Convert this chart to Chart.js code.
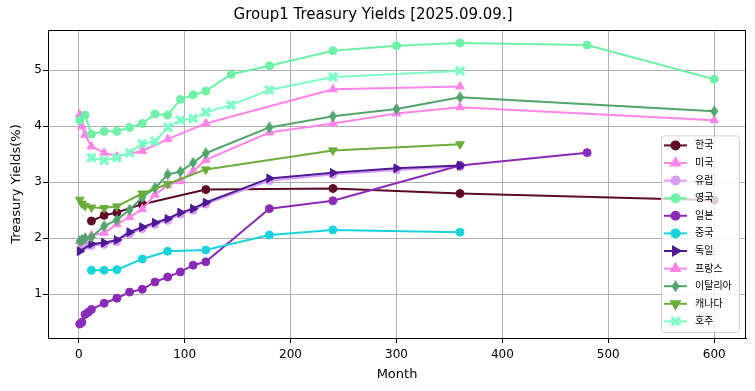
<!DOCTYPE html>
<html>
<head>
<meta charset="utf-8">
<script src="https://cdn.jsdelivr.net/npm/chart.js@4.4.1/dist/chart.umd.min.js"></script>
<style>
  html, body { margin: 0; padding: 0; background: #fff; }
</style>
</head>
<body>
<canvas id="yieldChart" width="755" height="391"></canvas>
<script>
// maturities in months, yields in %
const krMonths = [12, 24, 36, 60, 120, 240, 360, 600];
const krYields = [2.31, 2.41, 2.46, 2.61, 2.87, 2.89, 2.80, 2.68];

const usMonths = [1, 3, 6, 12, 24, 36, 60, 84, 120, 240, 360];
const usYields = [4.21, 4.0, 3.85, 3.64, 3.53, 3.46, 3.56, 3.77, 4.05, 4.66, 4.71];

const euMonths = [3, 6, 12, 24, 36, 48, 60, 72, 84, 96, 108, 120, 180, 240, 300, 360];
const euYields = [1.86, 1.87, 1.87, 1.89, 1.94, 2.08, 2.17, 2.25, 2.32, 2.43, 2.5, 2.61, 3.03, 3.14, 3.22, 3.28];

const ukMonths = [1, 6, 12, 24, 36, 48, 60, 72, 84, 96, 108, 120, 144, 180, 240, 300, 360, 480, 600];
const ukYields = [4.11, 4.2, 3.86, 3.91, 3.91, 3.98, 4.05, 4.22, 4.2, 4.48, 4.56, 4.63, 4.93, 5.08, 5.35, 5.44, 5.49, 5.45, 4.84];

const jpMonths = [1, 3, 6, 9, 12, 24, 36, 48, 60, 72, 84, 96, 108, 120, 180, 240, 360, 480];
const jpYields = [0.47, 0.5, 0.64, 0.68, 0.73, 0.84, 0.93, 1.04, 1.09, 1.22, 1.31, 1.4, 1.52, 1.58, 2.53, 2.67, 3.3, 3.53];

const cnMonths = [12, 24, 36, 60, 84, 120, 180, 240, 360];
const cnYields = [1.43, 1.43, 1.44, 1.63, 1.77, 1.79, 2.06, 2.15, 2.11];

const deMonths = [1, 12, 24, 36, 48, 60, 72, 84, 96, 108, 120, 180, 240, 300, 360];
const deYields = [1.77, 1.9, 1.92, 1.97, 2.11, 2.2, 2.28, 2.35, 2.46, 2.53, 2.64, 3.07, 3.17, 3.25, 3.3];

const frMonths = [1, 3, 6, 12, 24, 36, 48, 60, 72, 84, 96, 108, 120, 180, 240, 300, 360, 600];
const frYields = [1.95, 1.97, 2.0, 2.05, 2.1, 2.25, 2.38, 2.52, 2.78, 2.95, 3.02, 3.2, 3.4, 3.89, 4.05, 4.23, 4.34, 4.11];

const itMonths = [1, 3, 6, 12, 24, 36, 48, 60, 72, 84, 96, 108, 120, 180, 240, 300, 360, 600];
const itYields = [1.95, 1.97, 2.0, 2.02, 2.22, 2.33, 2.51, 2.73, 2.9, 3.14, 3.19, 3.35, 3.52, 3.98, 4.18, 4.31, 4.52, 4.27];

const caMonths = [1, 3, 6, 12, 24, 36, 60, 84, 120, 240, 360];
const caYields = [2.69, 2.62, 2.58, 2.55, 2.54, 2.57, 2.8, 2.97, 3.23, 3.57, 3.68];

const auMonths = [12, 24, 36, 48, 60, 72, 84, 96, 108, 120, 144, 180, 240, 360];
const auYields = [3.44, 3.39, 3.44, 3.53, 3.69, 3.73, 3.98, 4.11, 4.14, 4.25, 4.38, 4.65, 4.88, 4.99];

const xTickStep = 100;
const yTickStep = 1;

// matplotlib-like filled markers that chart.js does not have
function thinDiamond(color) {
  const c = document.createElement("canvas");
  c.width = 9; c.height = 12;
  const g = c.getContext("2d");
  g.fillStyle = color;
  g.beginPath();
  g.moveTo(4.5, 0); g.lineTo(8.5, 6); g.lineTo(4.5, 12); g.lineTo(0.5, 6);
  g.closePath();
  g.fill();
  return c;
}
function filledX(color) {
  const c = document.createElement("canvas");
  c.width = 10; c.height = 10;
  const g = c.getContext("2d");
  g.strokeStyle = color;
  g.lineWidth = 3.4;
  g.beginPath();
  g.moveTo(1, 1); g.lineTo(9, 9);
  g.moveTo(9, 1); g.lineTo(1, 9);
  g.stroke();
  return c;
}

function pts(months, yields) {
  return months.map((m, i) => ({ x: m, y: yields[i] }));
}

let series = [
  { label: "한국", data: pts(krMonths, krYields), color: "#5c0a26", style: "circle", r: 4 },
  { label: "미국", data: pts(usMonths, usYields), color: "#ff84e8", style: "triangle", r: 5 },
  { label: "유럽", data: pts(euMonths, euYields), color: "#d99ef5", style: "circle", r: 4 },
  { label: "영국", data: pts(ukMonths, ukYields), color: "#6ef0a6", style: "circle", r: 4 },
  { label: "일본", data: pts(jpMonths, jpYields), color: "#8a2bb8", style: "circle", r: 4 },
  { label: "중국", data: pts(cnMonths, cnYields), color: "#19d3da", style: "circle", r: 4 },
  { label: "독일", data: pts(deMonths, deYields), color: "#4e1a94", style: "triangle", rot: 90, r: 5 },
  { label: "프랑스", data: pts(frMonths, frYields), color: "#ff84e8", style: "triangle", r: 5 },
  { label: "이탈리아", data: pts(itMonths, itYields), color: "#52a36c", style: thinDiamond("#52a36c"), r: 5, bw: 0 },
  { label: "캐나다", data: pts(caMonths, caYields), color: "#6bac3a", style: "triangle", rot: 180, r: 5 },
  { label: "호주", data: pts(auMonths, auYields), color: "#7dfcc6", style: filledX("#7dfcc6"), r: 5, bw: 0 },
];

let datasets = series.map((s, i) => ({
  label: s.label,
  data: s.data,
  borderColor: s.color,
  backgroundColor: s.color,
  borderWidth: 2,
  pointStyle: s.style,
  pointRotation: s.rot || 0,
  pointRadius: s.r,
  pointBorderWidth: s.bw === undefined ? 1 : s.bw,
  tension: 0,
  order: series.length - i,
}));

// top/right spines like matplotlib
const frame = {
  id: "frame",
  afterDatasetsDraw(chart) {
    const { ctx, chartArea: a } = chart;
    ctx.save();
    ctx.strokeStyle = "#000";
    ctx.lineWidth = 1;
    ctx.strokeRect(Math.round(a.left) + 0.5, Math.round(a.top) + 0.5, Math.round(a.right - a.left) - 1, Math.round(a.bottom - a.top));
    ctx.restore();
  },
};

// legend box drawn inside the plot, lower right
const innerLegend = {
  id: "innerLegend",
  afterDraw(chart) {
    const { ctx, chartArea: a } = chart;
    const rowH = 17.6;
    const w = 78;
    const h = rowH * datasets.length + 3;
    const x = a.right - 7 - w;
    const y = a.bottom - 6 - h;
    ctx.save();
    ctx.fillStyle = "rgba(255,255,255,0.8)";
    ctx.strokeStyle = "#d0d0d0";
    ctx.lineWidth = 1;
    ctx.beginPath();
    ctx.roundRect(x + 0.5, y + 0.5, w, h, 3);
    ctx.fill();
    ctx.stroke();
    ctx.font = "10px 'DejaVu Sans', 'Noto Sans CJK KR'";
    ctx.textBaseline = "middle";
    datasets.forEach((d, i) => {
      const cy = y + 10 + i * rowH;
      ctx.strokeStyle = d.borderColor;
      ctx.fillStyle = d.borderColor;
      ctx.lineWidth = 2;
      ctx.beginPath();
      ctx.moveTo(x + 3, cy);
      ctx.lineTo(x + 26, cy);
      ctx.stroke();
      Chart.helpers.drawPoint(ctx, {
        pointStyle: d.pointStyle,
        rotation: d.pointRotation,
        radius: d.pointRadius,
        borderWidth: d.pointBorderWidth,
      }, x + 14.5, cy);
      ctx.fillStyle = "#000";
      ctx.fillText(d.label, x + 34, cy + 0.5);
    });
    ctx.restore();
  },
};

const ctx = document.getElementById("yieldChart").getContext("2d");
const yieldChart = new Chart(ctx, {
  type: "line",
  data: { datasets: datasets },
  plugins: [frame, innerLegend],
  options: {
    responsive: false,
    animation: false,
    devicePixelRatio: 1,
    layout: { padding: { left: 0, right: 9, top: 0, bottom: 0 } },
    plugins: {
      legend: { display: false },
      tooltip: { enabled: false },
      title: {
        display: true,
        text: "Group1 Treasury Yields [2025.09.09.]",
        color: "#000",
        font: { family: "'DejaVu Sans', 'Noto Sans CJK KR'", size: 15, weight: "normal", lineHeight: "17px" },
        padding: { top: 7, bottom: 6 },
      },
    },
    scales: {
      x: {
        type: "linear",
        min: -29,
        max: 630,
        afterFit: function (scale) { scale.height = 53; },
        ticks: {
          stepSize: xTickStep,
          includeBounds: false,
          color: "#000",
          padding: 5,
          maxRotation: 0,
          font: { family: "'DejaVu Sans'", size: 12 },
        },
        grid: { color: "#b0b0b0", lineWidth: 1, tickColor: "#000", tickLength: 5 },
        border: { display: true, color: "#000", width: 1 },
        title: {
          display: true,
          text: "Month",
          color: "#000",
          font: { family: "'DejaVu Sans'", size: 13 },
          padding: { top: 0, bottom: 9 },
        },
      },
      y: {
        type: "linear",
        min: 0.22,
        max: 5.72,
        afterFit: function (scale) { scale.width = 48; },
        ticks: {
          stepSize: yTickStep,
          includeBounds: false,
          color: "#000",
          padding: 1,
          font: { family: "'DejaVu Sans'", size: 12 },
        },
        grid: { color: "#b0b0b0", lineWidth: 1, tickColor: "#000", tickLength: 5 },
        border: { display: true, color: "#000", width: 1 },
        title: {
          display: true,
          text: "Treasury Yields(%)",
          color: "#000",
          font: { family: "'DejaVu Sans'", size: 13 },
          padding: { top: 9, bottom: 0 },
        },
      },
    },
  },
});
</script>
</body>
</html>
